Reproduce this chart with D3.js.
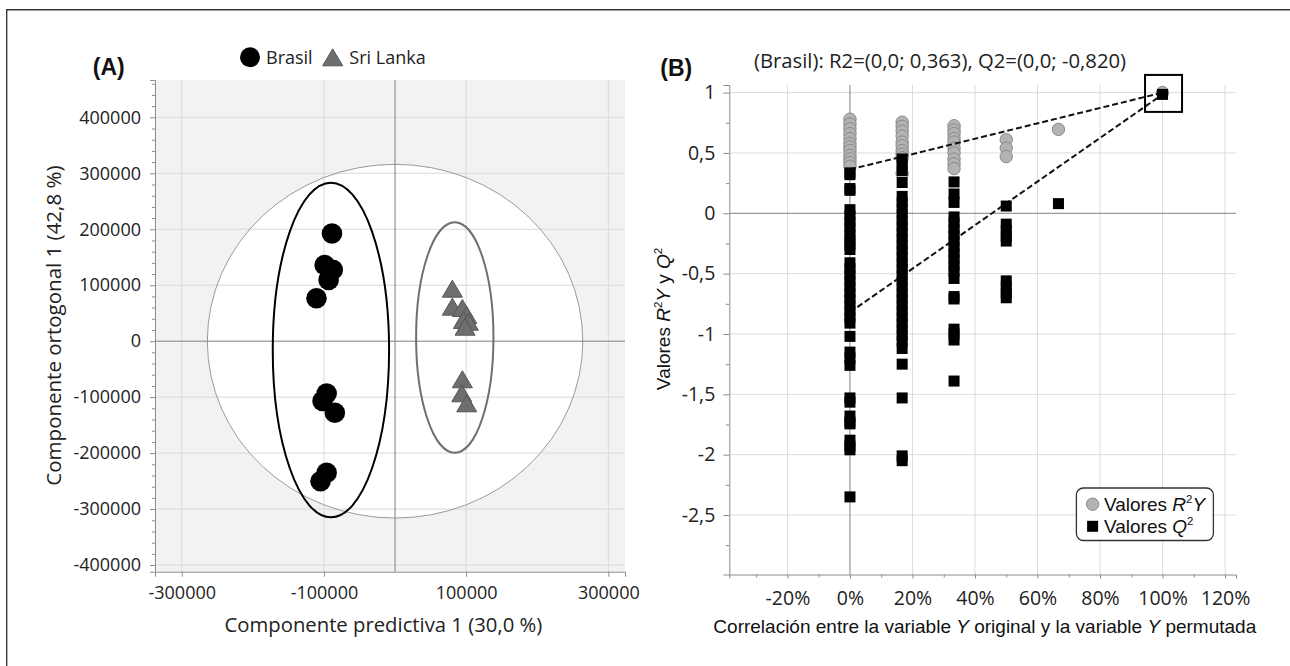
<!DOCTYPE html>
<html><head><meta charset="utf-8">
<script src="https://cdn.jsdelivr.net/npm/d3@7"></script>
<style>html,body{margin:0;padding:0;background:#fff;} svg{display:block;}</style>
</head><body>
<svg id="chart" width="1290" height="666"></svg>
<script>
// ---------- Panel A data ----------
const groupLabels = ["Brasil", "Sri Lanka"];
const brasilX = [-88700, -99000, -87600, -93400, -110500, -96200, -102000, -84700, -96200, -104800];
const brasilY = [192500, 136000, 127700, 109500, 76800, -93500, -107000, -127800, -235000, -250200];
const sriLankaX = [80600, 80600, 94700, 100800, 96100, 103100, 98500, 94700, 93800, 100800];
const sriLankaY = [93800, 61700, 59300, 46800, 37900, 34800, 25900, -68100, -93100, -111000];
const hotellingEllipse = [0, 0, 264000, 316000];      // cx, cy, rx, ry
const brasilEllipse = [-90200, -15700, 81800, 299000];
const sriLankaEllipse = [84000, 6600, 54400, 206000];
const xTicksA = [-300000, -100000, 100000, 300000];
const yTicksA = [-400000, -300000, -200000, -100000, 0, 100000, 200000, 300000, 400000];
const xTitleA = "Componente predictiva 1 (30,0 %)";
const yTitleA = "Componente ortogonal 1 (42,8 %)";

// ---------- Panel B data ----------
const corrLevels = [0, 0.167, 0.333, 0.5, 0.667];
const r2yValues = [
  [0.78, 0.74, 0.70, 0.66, 0.62, 0.58, 0.55, 0.52, 0.48, 0.45, 0.42, 0.39],
  [0.755, 0.72, 0.68, 0.64, 0.59, 0.56, 0.52, 0.49, 0.46, 0.33],
  [0.725, 0.69, 0.66, 0.62, 0.59, 0.54, 0.50, 0.45, 0.41, 0.37],
  [0.61, 0.54, 0.47],
  [0.695]
];
const q2Values = [
  [0.335, 0.32, 0.205, 0.19, 0.03, -0.02, -0.07, -0.12, -0.17, -0.22, -0.26, -0.30,
   -0.41, -0.46, -0.51, -0.56, -0.61, -0.66, -0.71, -0.76, -0.81, -0.86, -0.91,
   -1.02, -1.15, -1.20, -1.26, -1.53, -1.565, -1.68, -1.73, -1.745, -1.88, -1.93, -1.96, -2.35],
  [0.45, 0.40, 0.355, 0.255, 0.14, 0.09, 0.04, -0.01, -0.06, -0.11, -0.16, -0.21, -0.26, -0.31,
   -0.36, -0.41, -0.46, -0.51, -0.56, -0.61, -0.66, -0.71, -0.76, -0.81, -0.86, -0.91, -0.96,
   -1.01, -1.06, -1.12, -1.25, -1.53, -2.01, -2.05],
  [0.26, 0.16, 0.09, -0.03, -0.08, -0.13, -0.18, -0.23, -0.28, -0.33, -0.38, -0.43, -0.48, -0.54,
   -0.69, -0.71, -0.96, -1.00, -1.05, -1.39],
  [0.06, -0.09, -0.14, -0.19, -0.23, -0.56, -0.61, -0.66, -0.70],
  [0.08]
];
const originalCorr = 1.0, originalR2Y = 1.0, originalQ2 = 0.985;
const r2Intercept = 0.363, q2Intercept = -0.820;
const xTicksB = [-0.2, 0, 0.2, 0.4, 0.6, 0.8, 1.0, 1.2];
const yTicksB = [-2.5, -2, -1.5, -1, -0.5, 0, 0.5, 1];
const titleB = "(Brasil): R2=(0,0; 0,363), Q2=(0,0; -0,820)";
const xTitleB = ["Correlación entre la variable ", "Y", " original y la variable ", "Y", " permutada"];

const svg = d3.select("#chart");
const SEG = "'Open Sans', 'Noto Sans', sans-serif";
const ARI = "'Liberation Sans', Arial, sans-serif";

// outer frame (only top/left visible)
svg.append("path").attr("d", "M6.7,666 L6.7,9.7 L1290,9.7").attr("fill", "none").attr("stroke", "#3a3a3a").attr("stroke-width", 1.4);

// ================= PANEL A =================
const xA = d3.scaleLinear().domain([-337600, 323400]).range([155, 625]);
const yA = d3.scaleLinear().domain([-411900, 466700]).range([571.7, 80]);
const gA = svg.append("g");
gA.append("rect").attr("x", xA.range()[0]).attr("y", yA.range()[1])
  .attr("width", xA.range()[1] - xA.range()[0]).attr("height", yA.range()[0] - yA.range()[1]).attr("fill", "#f2f2f2");
const sxA = v => Math.abs(xA(v) - xA(0));
const syA = v => Math.abs(yA(v) - yA(0));
gA.append("ellipse").attr("cx", xA(hotellingEllipse[0])).attr("cy", yA(hotellingEllipse[1]))
  .attr("rx", sxA(hotellingEllipse[2])).attr("ry", syA(hotellingEllipse[3])).attr("fill", "#fff");
// grid
gA.selectAll(".gx").data(xTicksA).join("line").attr("x1", d => xA(d)).attr("x2", d => xA(d))
  .attr("y1", yA.range()[1]).attr("y2", yA.range()[0]).attr("stroke", "#d9d9d9").attr("stroke-width", 1);
gA.selectAll(".gy").data(yTicksA.filter(d => d !== 0)).join("line").attr("y1", d => yA(d)).attr("y2", d => yA(d))
  .attr("x1", xA.range()[0]).attr("x2", xA.range()[1]).attr("stroke", "#d9d9d9").attr("stroke-width", 1);
gA.append("ellipse").attr("cx", xA(hotellingEllipse[0])).attr("cy", yA(hotellingEllipse[1]))
  .attr("rx", sxA(hotellingEllipse[2])).attr("ry", syA(hotellingEllipse[3])).attr("fill", "none").attr("stroke", "#9a9a9a").attr("stroke-width", 1);
// zero lines
gA.append("line").attr("x1", xA(0)).attr("x2", xA(0)).attr("y1", yA.range()[1]).attr("y2", yA.range()[0]).attr("stroke", "#808080");
gA.append("line").attr("y1", yA(0)).attr("y2", yA(0)).attr("x1", xA.range()[0]).attr("x2", xA.range()[1]).attr("stroke", "#808080");
// axes
const axA_y = gA.append("g").attr("transform", `translate(${xA.range()[0]},0)`)
  .call(d3.axisLeft(yA).tickValues(yTicksA).tickSize(5).tickPadding(9).tickFormat(d => String(d)));
const minorA = d3.range(-400000, 466700, 20000).filter(v => v % 100000 !== 0);
const axA_ym = gA.append("g").attr("transform", `translate(${xA.range()[0]},0)`)
  .call(d3.axisLeft(yA).tickValues(minorA).tickSize(3).tickFormat(""));
const axA_x = gA.append("g").attr("transform", `translate(0,${yA.range()[0]})`)
  .call(d3.axisBottom(xA).tickValues(xTicksA).tickSize(5).tickPadding(10).tickFormat(d => String(d)));
[axA_y, axA_ym, axA_x].forEach(a => {
  a.select(".domain").attr("stroke", "#8c8c8c");
  a.selectAll(".tick line").attr("stroke", "#8c8c8c");
  a.selectAll("text").attr("font-family", SEG).attr("font-size", 18).attr("fill", "#222");
});
axA_ym.select(".domain").remove();
// group ellipses
gA.append("ellipse").attr("cx", xA(brasilEllipse[0])).attr("cy", yA(brasilEllipse[1]))
  .attr("rx", sxA(brasilEllipse[2])).attr("ry", syA(brasilEllipse[3])).attr("fill", "none").attr("stroke", "#000").attr("stroke-width", 2);
gA.append("ellipse").attr("cx", xA(sriLankaEllipse[0])).attr("cy", yA(sriLankaEllipse[1]))
  .attr("rx", sxA(sriLankaEllipse[2])).attr("ry", syA(sriLankaEllipse[3])).attr("fill", "none").attr("stroke", "#6f6f6f").attr("stroke-width", 2);
// points
const triPath = "M0,-8.5 L10,8.5 L-10,8.5 Z";
gA.selectAll(".br").data(d3.range(brasilX.length)).join("circle")
  .attr("cx", i => xA(brasilX[i])).attr("cy", i => yA(brasilY[i])).attr("r", 10.3).attr("fill", "#000");
gA.selectAll(".sl").data(d3.range(sriLankaX.length)).join("path")
  .attr("transform", i => `translate(${xA(sriLankaX[i])},${yA(sriLankaY[i])})`).attr("d", triPath)
  .attr("fill", "#6e6e6e").attr("stroke", "#555").attr("stroke-width", 1);
// legend A
gA.append("circle").attr("cx", 250).attr("cy", 57.3).attr("r", 10).attr("fill", "#000");
gA.append("text").attr("x", 266).attr("y", 64).text(groupLabels[0]).attr("font-family", SEG).attr("font-size", 18).attr("fill", "#222");
gA.append("path").attr("transform", "translate(332.7,57.3)").attr("d", triPath).attr("fill", "#6e6e6e").attr("stroke", "#555");
gA.append("text").attr("x", 349.3).attr("y", 64).text(groupLabels[1]).attr("font-family", SEG).attr("font-size", 18).attr("fill", "#222");
// titles A
gA.append("text").attr("x", 108.8).attr("y", 74.5).attr("text-anchor", "middle").text("(A)")
  .attr("font-family", ARI).attr("font-weight", "bold").attr("font-size", 23).attr("fill", "#111");
gA.append("text").attr("x", 383.4).attr("y", 631.5).attr("text-anchor", "middle").text(xTitleA)
  .attr("font-family", SEG).attr("font-size", 20.3).attr("fill", "#222");
gA.append("text").attr("transform", "translate(60.5,325.6) rotate(-90)").attr("text-anchor", "middle").text(yTitleA)
  .attr("font-family", SEG).attr("font-size", 20.5).attr("fill", "#222");

// ================= PANEL B =================
const xB = d3.scaleLinear().domain([-0.386, 1.235]).range([729.3, 1236]);
const yB = d3.scaleLinear().domain([-2.993, 1.063]).range([574.5, 85]);
const gB = svg.append("g");
const fmtComma = d => String(d).replace(".", ",");
gB.selectAll(".gx").data(xTicksB.filter(d => d !== 0)).join("line").attr("x1", d => xB(d)).attr("x2", d => xB(d))
  .attr("y1", yB.range()[1]).attr("y2", yB.range()[0]).attr("stroke", "#dcdcdc");
gB.selectAll(".gy").data(yTicksB.filter(d => d !== 0)).join("line").attr("y1", d => yB(d)).attr("y2", d => yB(d))
  .attr("x1", xB.range()[0]).attr("x2", xB.range()[1]).attr("stroke", "#dcdcdc");
gB.append("line").attr("x1", xB(0)).attr("x2", xB(0)).attr("y1", yB.range()[1]).attr("y2", yB.range()[0]).attr("stroke", "#808080");
gB.append("line").attr("y1", yB(0)).attr("y2", yB(0)).attr("x1", xB.range()[0]).attr("x2", xB.range()[1]).attr("stroke", "#808080");
const axB_y = gB.append("g").attr("transform", `translate(${xB.range()[0]},0)`)
  .call(d3.axisLeft(yB).tickValues(yTicksB).tickSize(6).tickPadding(8).tickFormat(fmtComma));
const axB_ym = gB.append("g").attr("transform", `translate(${xB.range()[0]},0)`)
  .call(d3.axisLeft(yB).tickValues(d3.range(-2.75, 1.01, 0.5)).tickSize(3.5).tickFormat(""));
const axB_x = gB.append("g").attr("transform", `translate(0,${yB.range()[0]})`)
  .call(d3.axisBottom(xB).tickValues(xTicksB).tickSize(4).tickPadding(13).tickFormat(d => Math.round(d * 100) + "%"));
const axB_xm = gB.append("g").attr("transform", `translate(0,${yB.range()[0]})`)
  .call(d3.axisBottom(xB).tickValues(d3.range(-0.3, 1.2, 0.2)).tickSize(3).tickFormat(""));
[axB_y, axB_ym, axB_x, axB_xm].forEach(a => {
  a.select(".domain").attr("stroke", "#8c8c8c");
  a.selectAll(".tick line").attr("stroke", "#8c8c8c");
  a.selectAll("text").attr("font-family", SEG).attr("font-size", 19.5).attr("fill", "#222");
});
axB_ym.select(".domain").remove();
axB_xm.select(".domain").remove();

// permutation R2Y circles
const r2Flat = [], q2Flat = [];
corrLevels.forEach((c, i) => {
  r2yValues[i].forEach(v => r2Flat.push([c, v]));
  q2Values[i].forEach(v => q2Flat.push([c, v]));
});
r2Flat.push([originalCorr, originalR2Y]);
q2Flat.push([originalCorr, originalQ2]);
gB.selectAll(".r2").data(r2Flat).join("circle").attr("cx", d => xB(d[0])).attr("cy", d => yB(d[1]))
  .attr("r", 6.2).attr("fill", "#b3b3b3").attr("stroke", "#8a8a8a").attr("stroke-width", 1);
// regression lines
const dash = "6,3";
gB.append("line").attr("x1", xB(0)).attr("y1", yB(r2Intercept)).attr("x2", xB(originalCorr)).attr("y2", yB(originalR2Y))
  .attr("stroke", "#111").attr("stroke-width", 2).attr("stroke-dasharray", dash);
gB.append("line").attr("x1", xB(0)).attr("y1", yB(q2Intercept)).attr("x2", xB(originalCorr)).attr("y2", yB(originalQ2))
  .attr("stroke", "#111").attr("stroke-width", 2).attr("stroke-dasharray", dash);
// Q2 squares
const SQ = 11;
gB.selectAll(".q2").data(q2Flat).join("rect").attr("x", d => xB(d[0]) - SQ / 2).attr("y", d => yB(d[1]) - SQ / 2)
  .attr("width", SQ).attr("height", SQ).attr("fill", "#000");
// highlight box around original model
gB.append("rect").attr("x", xB(originalCorr) - 17.5).attr("y", yB(originalQ2) - 19.5).attr("width", 37).attr("height", 37)
  .attr("fill", "none").attr("stroke", "#000").attr("stroke-width", 2);

// legend B
gB.append("rect").attr("x", 1076.4).attr("y", 488).attr("width", 137).attr("height", 52.5).attr("rx", 7)
  .attr("fill", "#fff").attr("stroke", "#333").attr("stroke-width", 1.3);
gB.append("circle").attr("cx", 1092.6).attr("cy", 504.2).attr("r", 6.2).attr("fill", "#b3b3b3").attr("stroke", "#8a8a8a");
gB.append("rect").attr("x", 1092.6 - SQ / 2).attr("y", 526.3 - SQ / 2).attr("width", SQ).attr("height", SQ).attr("fill", "#000");
function rich(textSel, parts, size) {
  parts.forEach(p => {
    const t = textSel.append("tspan").text(p.t);
    if (p.i) t.attr("font-style", "italic");
    if (p.sup) t.attr("font-size", size * 0.6).attr("dy", -size * 0.38);
    if (p.down) t.attr("dy", size * 0.38);
  });
}
const lg1 = gB.append("text").attr("x", 1104).attr("y", 510.5).attr("font-family", ARI).attr("font-size", 19).attr("fill", "#111");
rich(lg1, [{t: "Valores "}, {t: "R", i: true}, {t: "2", sup: true}, {t: "Y", i: true, down: true}], 19);
const lg2 = gB.append("text").attr("x", 1104).attr("y", 532.5).attr("font-family", ARI).attr("font-size", 19).attr("fill", "#111");
rich(lg2, [{t: "Valores "}, {t: "Q", i: true}, {t: "2", sup: true}], 19);

// titles B
gB.append("text").attr("x", 676.3).attr("y", 75.5).attr("text-anchor", "middle").text("(B)")
  .attr("font-family", ARI).attr("font-weight", "bold").attr("font-size", 23).attr("fill", "#111");
gB.append("text").attr("x", 940).attr("y", 68).attr("text-anchor", "middle").text(titleB)
  .attr("font-family", SEG).attr("font-size", 20.3).attr("fill", "#222");
const xt = gB.append("text").attr("x", 984.8).attr("y", 633).attr("text-anchor", "middle")
  .attr("font-family", ARI).attr("font-size", 19).attr("fill", "#111");
xTitleB.forEach((s, i) => { const t = xt.append("tspan").text(s); if (i % 2 === 1) t.attr("font-style", "italic"); });
const yt = gB.append("text").attr("transform", "translate(669.5,319) rotate(-90)").attr("text-anchor", "middle")
  .attr("font-family", ARI).attr("font-size", 19).attr("fill", "#111");
rich(yt, [{t: "Valores "}, {t: "R", i: true}, {t: "2", sup: true}, {t: "Y", i: true, down: true}, {t: " y "}, {t: "Q", i: true}, {t: "2", sup: true}], 19);
</script>
</body></html>
